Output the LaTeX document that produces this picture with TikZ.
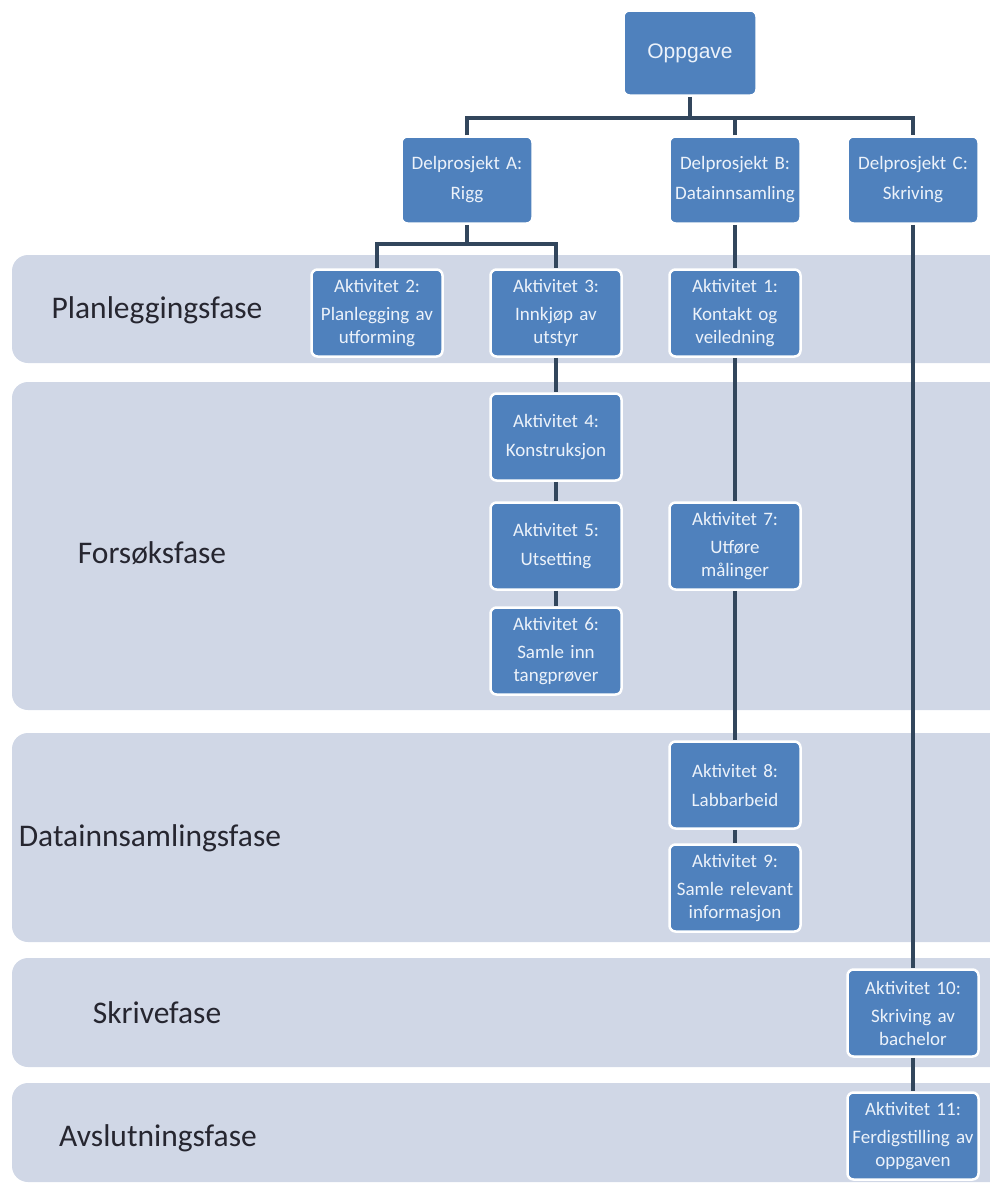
\documentclass[tikz,border=0pt]{standalone}
\usepackage{fontspec}
\setmainfont{Carlito}
\newfontfamily\arialfont{Liberation Sans}
\usetikzlibrary{positioning, calc}
\definecolor{boxblue}{RGB}{79, 129, 189}
\definecolor{band}{RGB}{208, 215, 230}
\definecolor{linec}{RGB}{50, 70, 92}
\definecolor{boxtext}{RGB}{236, 242, 250}
\definecolor{phasetext}{RGB}{38, 38, 48}

\begin{document}
\begin{tikzpicture}[
    x=1pt, y=-1pt,
    taskbox/.style={
        rectangle, rounded corners=6pt,
        draw=white, fill=boxblue,
        line width=2.5pt, align=center,
        text=boxtext, inner sep=2pt,
        text width=127pt, minimum height=87pt,
        font=\fontsize{19}{23}\selectfont,
    },
    rootbox/.style={
        taskbox, text width=129pt, minimum height=85pt,
        font=\arialfont\fontsize{21}{25}\selectfont,
    },
    phase/.style={
        font=\fontsize{31.5}{36}\selectfont,
        text=phasetext,
    },
    bandfill/.style={fill=band, rounded corners=16pt},
    conn/.style={draw=linec, line width=3.6pt},
]
\useasboundingbox (0,0) rectangle (989,1186);

% =================================================
% Phase bands
% =================================================
\fill[bandfill] (12,255)  rectangle (1010,363);
\fill[bandfill] (12,382)  rectangle (1010,710);
\fill[bandfill] (12,733)  rectangle (1010,942);
\fill[bandfill] (12,958)  rectangle (1010,1067);
\fill[bandfill] (12,1083) rectangle (1010,1182);

\node[phase] (planfase)  at (157,310)  {Planleggingsfase};
\node[phase] (forsfase)  at (152,553)  {Forsøksfase};
\node[phase] (datafase)  at (150,838)  {Datainnsamlingsfase};
\node[phase] (skrivfase) at (157,1013) {Skrivefase};
\node[phase] (avslfase)  at (158,1138) {Avslutningsfase};

% =================================================
% Task and sub-project boxes
% =================================================
\node[rootbox] (oppg) at (690,53) {Oppgave};

\node[taskbox] (delA) at (467,180) {Delprosjekt A:\\[7pt]Rigg};
\node[taskbox] (delB) at (735,180) {Delprosjekt B:\\[7pt]Datainnsamling};
\node[taskbox] (delC) at (913,180) {Delprosjekt C:\\[7pt]Skriving};

\node[taskbox] (akt2) at (377,313) {Aktivitet 2:\\[5pt]Planlegging av\\utforming};
\node[taskbox] (akt3) at (556,313) {Aktivitet 3:\\[5pt]Innkjøp av\\utstyr};
\node[taskbox] (akt1) at (735,313) {Aktivitet 1:\\[5pt]Kontakt og\\veiledning};

\node[taskbox] (akt4) at (556,437) {Aktivitet 4:\\[6pt]Konstruksjon};
\node[taskbox] (akt5) at (556,546) {Aktivitet 5:\\[6pt]Utsetting};
\node[taskbox] (akt6) at (556,651) {Aktivitet 6:\\[5pt]Samle inn\\tangprøver};
\node[taskbox] (akt7) at (735,546) {Aktivitet 7:\\[5pt]Utføre\\målinger};

\node[taskbox] (akt8) at (735,785) {Aktivitet 8:\\[6pt]Labbarbeid};
\node[taskbox] (akt9) at (735,888) {Aktivitet 9:\\[5pt]Samle relevant\\informasjon};

\node[taskbox] (akt10) at (913,1013) {Aktivitet 10:\\[5pt]Skriving av\\bachelor};
\node[taskbox] (akt11) at (913,1136) {Aktivitet 11:\\[5pt]Ferdigstilling av\\oppgaven};

% =================================================
% Connectors
% =================================================
\coordinate (bus)    at (690,118);
\coordinate (splitA) at (467,244);

\draw[conn] (oppg.south) -- (bus);
\draw[conn] (delA.north) -- (delA.north |- bus) -| (delC.north);
\draw[conn] (delB.north) -- (delB.north |- bus);

\draw[conn] (delA.south) -- (splitA);
\draw[conn] (akt2.north) -- (akt2.north |- splitA) -| (akt3.north);

\draw[conn] (akt3) -- (akt4);
\draw[conn] (akt4) -- (akt5);
\draw[conn] (akt5) -- (akt6);

\draw[conn] (delB) -- (akt1);
\draw[conn] (akt1) -- (akt7);
\draw[conn] (akt7) -- (akt8);
\draw[conn] (akt8) -- (akt9);

\draw[conn] (delC)  -- (akt10);
\draw[conn] (akt10) -- (akt11);

\end{tikzpicture}
\end{document}
